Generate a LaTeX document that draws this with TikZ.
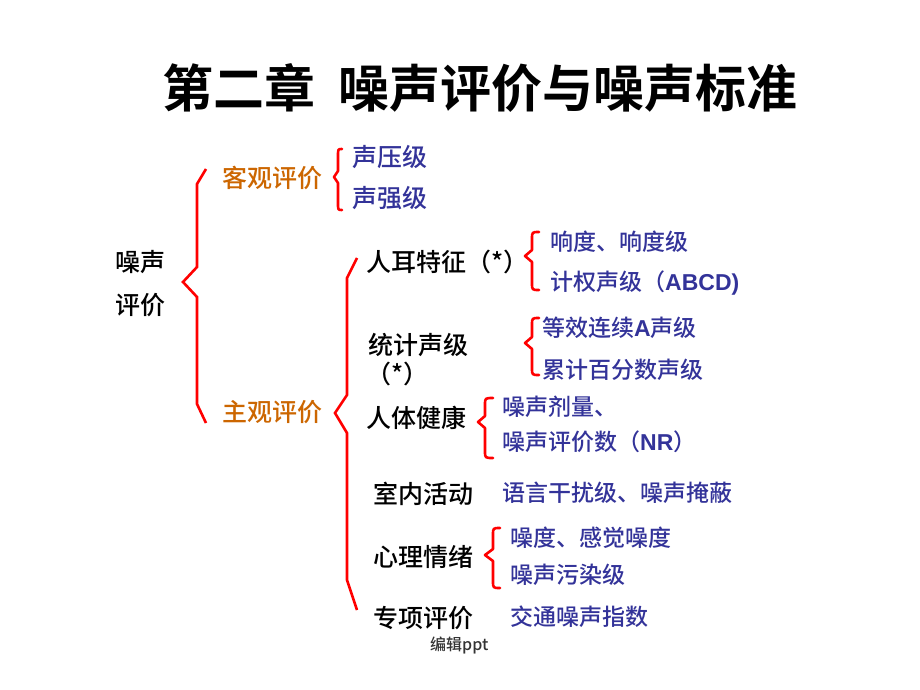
\documentclass[tikz,border=0pt]{standalone}
\usepackage{fontspec}
\setmainfont{Liberation Sans}
\newfontfamily\cjk{Noto Sans CJK SC Medium}[BoldFont={Noto Sans CJK SC Bold}]
\newcommand\La[1]{{\rmfamily\bfseries #1}}
\definecolor{myorange}{RGB}{204,102,0}
\definecolor{myblue}{RGB}{51,51,153}
\newcommand\cbr[6]{\draw[br] (#1,#2) .. controls (#3,#2) .. (#3,{#2+7}) -- (#3,{#4-6}) -- (#5,#4) -- (#3,{#4+6}) -- (#3,{#6-7}) .. controls (#3,#6) .. (#1,#6);}
\begin{document}
\begin{tikzpicture}[x=1pt,y=-1pt,
  lbl/.style={anchor=west,inner sep=0pt,font=\cjk\fontsize{25}{28}\selectfont},
  blk/.style={lbl,text=black},
  org/.style={lbl,text=myorange},
  blu/.style={lbl,text=myblue},
  blus/.style={anchor=west,inner sep=0pt,text=myblue,font=\cjk\fontsize{23}{26}\selectfont},
  br/.style={draw=red,line width=2.6pt,line join=round,line cap=round},
  bigbr/.style={draw=red,line width=2.6pt,line join=miter}]
\useasboundingbox (0,0) rectangle (920,690);
\node[inner sep=0pt,font=\cjk\bfseries\fontsize{51}{56}\selectfont] (title) at (480,88) {第二章\ \ 噪声评价与噪声标准};
% level 0
\node[blk] (n1) at (115,262) {噪声};
\node[blk] (n2) at (115,305) {评价};
% level 1
\node[org] (ko) at (222,178) {客观评价};
\node[org] (zh) at (222,412) {主观评价};
% objective
\node[blu] (s1) at (352,157) {声压级};
\node[blu] (s2) at (352,198) {声强级};
% subjective categories
\node[blk] (a1) at (366,262) {人耳特征（*）};
\node[blk] (a2) at (368,345) {统计声级};
\node[blk] (a2b) at (366,374) {（*）};
\node[blk] (a3) at (366,418) {人体健康};
\node[blk] (a4) at (373,494) {室内活动};
\node[blk] (a5) at (373,557) {心理情绪};
\node[blk] (a6) at (373,618) {专项评价};
% details
\node[blus] (b1) at (550,242) {响度、响度级};
\node[blus] (b2) at (550,283) {计权声级（\La{ABCD)}};
\node[blus] (c1) at (542,328) {等效连续\La{A}声级};
\node[blus] (c2) at (542,370) {累计百分数声级};
\node[blus] (d1) at (502,407) {噪声剂量、};
\node[blus] (d2) at (502,442) {噪声评价数（\La{NR}）};
\node[blus] (e1) at (502,493) {语言干扰级、噪声掩蔽};
\node[blus] (f1) at (510,538) {噪度、感觉噪度};
\node[blus] (f2) at (510,575) {噪声污染级};
\node[blus] (g1) at (510,617) {交通噪声指数};
\node[anchor=west,inner sep=0pt,text=black!80,font=\cjk\fontsize{16}{18}\selectfont] (foot) at (430,645) {编辑ppt};
% big braces
\draw[bigbr] (206,169) -- (197,184) -- (197,267) -- (183,282) -- (197,297) -- (197,404) -- (206,423);
\draw[bigbr] (357,258) -- (347,278) -- (347,395) -- (335,413) -- (347,433) -- (347,580) -- (357,610);
% small braces
\cbr{342}{149}{338}{177}{334}{210}
\cbr{539}{232}{532}{256}{525}{290}
\cbr{539}{318}{532}{343}{525}{375}
\cbr{493}{398}{485}{422}{478}{458}
\cbr{500}{528}{493}{555}{485}{588}
\end{tikzpicture}
\end{document}
